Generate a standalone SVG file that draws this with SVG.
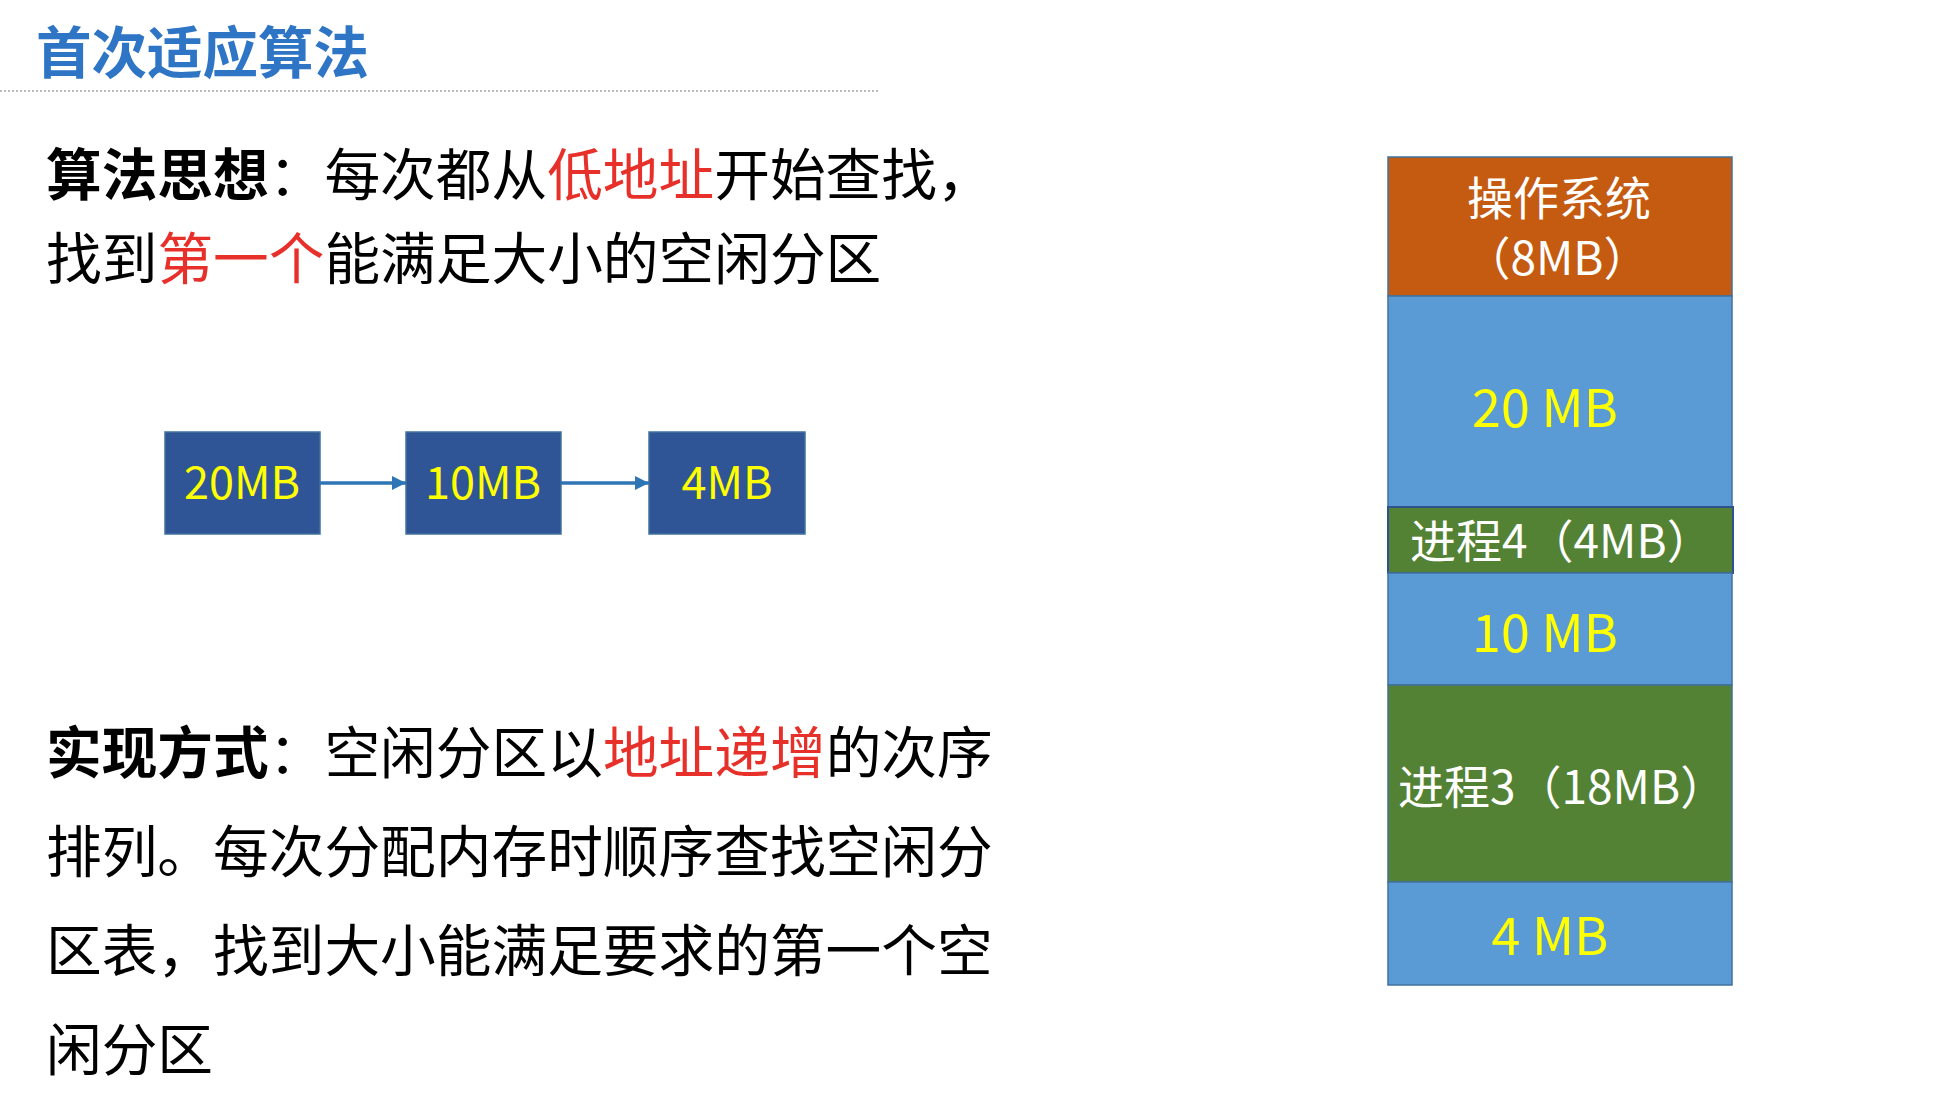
<svg xmlns="http://www.w3.org/2000/svg" width="1942" height="1108" viewBox="0 0 1942 1108">
<style>
  .cjk { font-family: "Noto Sans CJK SC", "Noto Sans", sans-serif; }
  .body { font-size: 55.7px; fill: #000; }
  .red { fill: #E8302A; }
  .bold { font-weight: bold; }
  .node rect { fill: #2F5597; stroke: #41719C; stroke-width: 1.5; }
  .node text { font-size: 45px; fill: #FFFF00; text-anchor: middle; }
  .mem { stroke: #41719C; stroke-width: 1.5; }
  .free { fill: #5B9BD5; }
  .proc { fill: #548235; }
  .os { fill: #C55A11; }
  .wt { fill: #FFFFFF; font-size: 46px; }
  .yt { fill: #FFFF00; font-size: 52px; text-anchor: middle; }
  .conn { stroke: #2E75B6; stroke-width: 3.5; fill: none; }
</style>
<defs>
  <marker id="arr" markerUnits="userSpaceOnUse" markerWidth="16" markerHeight="16" refX="14" refY="8" orient="auto">
    <path d="M0,1 L14,8 L0,15 Z" fill="#2E75B6"/>
  </marker>
</defs>
<rect width="1942" height="1108" fill="#FFFFFF"/>

<g id="title">
  <text class="cjk bold" x="36" y="73" font-size="55.5" fill="#2E75C5">首次适应算法</text>
  <line x1="0" y1="91" x2="879" y2="91" stroke="#A6A6A6" stroke-width="1.5" stroke-dasharray="2 2"/>
</g>

<g id="idea">
  <text class="cjk body" x="46" y="195"><tspan class="bold">算法思想</tspan>：每次都从<tspan class="red">低地址</tspan>开始查找，</text>
  <text class="cjk body" x="46" y="279">找到<tspan class="red">第一个</tspan>能满足大小的空闲分区</text>
</g>

<g id="node-20mb" class="node cjk">
  <rect x="165" y="432" width="155" height="102"/>
  <text x="242" y="499">20MB</text>
</g>
<g id="node-10mb" class="node cjk">
  <rect x="406" y="432" width="155" height="102"/>
  <text x="483" y="499">10MB</text>
</g>
<g id="node-4mb" class="node cjk">
  <rect x="649" y="432" width="156" height="102"/>
  <text x="727" y="499">4MB</text>
</g>

<g id="connectors">
  <line class="conn" x1="320" y1="483" x2="406" y2="483" marker-end="url(#arr)"/>
  <line class="conn" x1="561" y1="483" x2="649" y2="483" marker-end="url(#arr)"/>
</g>

<g id="impl">
  <text class="cjk body" x="46" y="773"><tspan class="bold">实现方式</tspan>：空闲分区以<tspan class="red">地址递增</tspan>的次序</text>
  <text class="cjk body" x="46" y="872">排列。每次分配内存时顺序查找空闲分</text>
  <text class="cjk body" x="46" y="971">区表，找到大小能满足要求的第一个空</text>
  <text class="cjk body" x="46" y="1070">闲分区</text>
</g>

<g id="mem-os">
  <rect class="mem os" x="1388" y="157" width="344" height="139"/>
  <text class="cjk wt" x="1559" y="215" text-anchor="middle">操作系统</text>
  <text class="cjk wt" x="1557" y="275" text-anchor="middle">（8MB）</text>
</g>
<g id="mem-20mb">
  <rect class="mem free" x="1388" y="296" width="344" height="211"/>
  <text class="cjk yt" x="1545" y="427">20 MB</text>
</g>
<g id="mem-p4">
  <rect x="1388" y="507" width="345" height="66" fill="#548235" stroke="#2F528F" stroke-width="2"/>
  <text class="cjk wt" x="1410" y="558">进程4（4MB）</text>
</g>
<g id="mem-10mb">
  <rect class="mem free" x="1388" y="573" width="344" height="112"/>
  <text class="cjk yt" x="1545" y="652">10 MB</text>
</g>
<g id="mem-p3">
  <rect class="mem proc" x="1388" y="685" width="344" height="197"/>
  <text class="cjk wt" x="1398" y="804">进程3（18MB）</text>
</g>
<g id="mem-4mb">
  <rect class="mem free" x="1388" y="882" width="344" height="103"/>
  <text class="cjk yt" x="1550" y="955">4 MB</text>
</g>
</svg>
